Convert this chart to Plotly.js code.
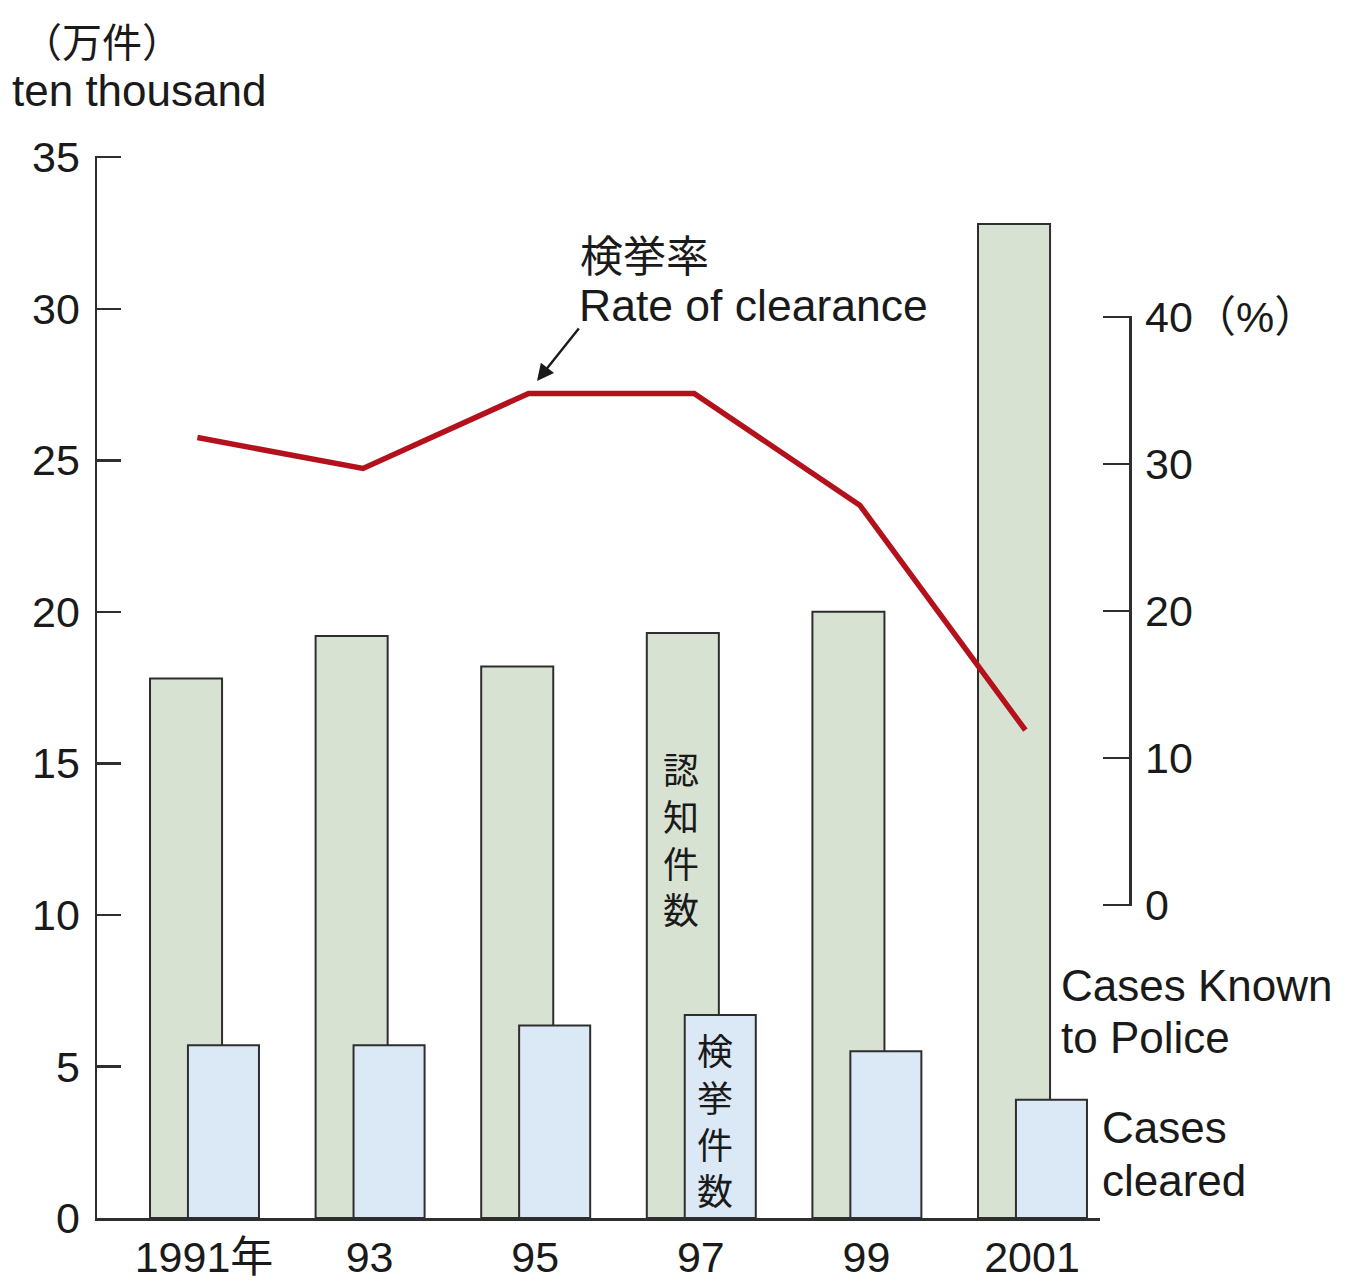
<!DOCTYPE html>
<html>
<head>
<meta charset="utf-8">
<script src="https://cdn.plot.ly/plotly-3.0.1.min.js"></script>
<style>html,body{margin:0;padding:0;background:#fff;}</style>
</head>
<body>
<div id="chart" style="width:1346px;height:1280px;"></div>
<script>
// ---- data ----
const years = ['1991年', '93', '95', '97', '99', '2001'];
const casesKnown = [17.8, 19.2, 18.2, 19.3, 20.0, 32.8];     // 万件
const casesCleared = [5.7, 5.7, 6.35, 6.7, 5.5, 3.9];       // 万件
const clearanceRate = [31.8, 29.7, 34.8, 34.8, 27.2, 11.9]; // %
const leftTicks = [0, 5, 10, 15, 20, 25, 30, 35];
const rightTicks = [0, 10, 20, 30, 40];
const rightTickText = ['0', '10', '20', '30', '40（%）'];

// ---- layout helpers ----
const W = 1346, H = 1280;
const M = {l: 97, r: 216, t: 156, b: 62};
const PW = W - M.l - M.r, PH = H - M.t - M.b;
const px = x => (x - M.l) / PW;
const py = y => (H - M.b - y) / PH;

const idx = years.map((_, i) => i);
const FONT = 'Liberation Sans, Arial, Helvetica, sans-serif';
const JFONT = 'Noto Sans CJK JP, Liberation Sans, sans-serif';
const MIX = 'Liberation Sans, Noto Sans CJK JP, sans-serif';
const edge = '#2e2e2e';

const traces = [
  {
    type: 'bar', x: idx, y: casesKnown, width: 0.435, offset: -0.326,
    marker: {color: '#d8e2d2', line: {color: edge, width: 2}},
    xaxis: 'x', yaxis: 'y', hoverinfo: 'skip'
  },
  {
    type: 'bar', x: idx, y: casesCleared, width: 0.429, offset: -0.097,
    marker: {color: '#dbe8f6', line: {color: edge, width: 2}},
    xaxis: 'x', yaxis: 'y', hoverinfo: 'skip'
  },
  {
    type: 'scatter', mode: 'lines', x: idx.map(i => i - 0.04), y: clearanceRate,
    line: {color: '#b3121c', width: 5.5},
    xaxis: 'x', yaxis: 'y2', hoverinfo: 'skip', cliponaxis: false
  }
];

const ann = [];
function txt(text, x, y, size, family, xanchor, align) {
  ann.push({text: text, xref: 'paper', yref: 'paper', x: px(x), y: py(y),
    xanchor: xanchor || 'left', yanchor: 'middle', showarrow: false, align: align || 'left',
    font: {size: size, family: family || FONT, color: '#1a1a1a'}});
}
txt('（万件）', 20, 40, 40, JFONT);
txt('ten thousand', 10, 90, 44);
txt('検挙率', 578, 253, 43, JFONT);
txt('Rate of clearance', 577, 305, 44.5);
txt('Cases Known', 1059, 985, 44);
txt('to Police', 1059, 1037, 44);
txt('Cases', 1100, 1127, 44);
txt('cleared', 1100, 1180, 44);
txt('認<br>知<br>件<br>数', 681, 838, 36, JFONT, 'center', 'center');
txt('検<br>挙<br>件<br>数', 715, 1119, 36, JFONT, 'center', 'center');
// arrow to the line
ann.push({text: '', xref: 'paper', yref: 'paper', x: px(537), y: py(381),
  ax: 43, ay: -54, showarrow: true, arrowhead: 2, arrowsize: 1.4, arrowwidth: 2.4,
  arrowcolor: '#1a1a1a'});

const layout = {
  width: W, height: H,
  margin: M,
  paper_bgcolor: '#fff', plot_bgcolor: 'rgba(0,0,0,0)',
  showlegend: false,
  barmode: 'overlay',
  font: {family: FONT, size: 43, color: '#1a1a1a'},
  xaxis: {
    domain: [0, (1100 - M.l) / PW],
    range: [(97 - 204) / 165.6, (1100 - 204) / 165.6],
    tickvals: idx, ticktext: years,
    ticks: '', showgrid: false, zeroline: false,
    showline: true, linecolor: edge, linewidth: 2.5,
    tickfont: {size: 43, family: MIX},
    ticklabelstandoff: 0,
    anchor: 'y'
  },
  yaxis: {
    range: [0, 35.04], tickvals: leftTicks,
    ticks: 'inside', ticklen: 24, tickwidth: 2.5, tickcolor: edge,
    showgrid: false, zeroline: false,
    showline: true, linecolor: edge, linewidth: 2.5,
    tickfont: {size: 43},
    ticklabelstandoff: 6,
    anchor: 'x'
  },
  yaxis2: {
    domain: [py(906), py(316)],
    range: [-0.07, 40.07], tickvals: rightTicks, ticktext: rightTickText,
    side: 'right', anchor: 'free', position: 1,
    ticks: 'inside', ticklen: 26, tickwidth: 2.5, tickcolor: edge,
    showgrid: false, zeroline: false,
    showline: true, linecolor: edge, linewidth: 2.5,
    tickfont: {size: 43, family: MIX},
    ticklabelstandoff: 5
  },
  annotations: ann
};

Plotly.newPlot('chart', traces, layout, {displayModeBar: false, staticPlot: true});
</script>
</body>
</html>
